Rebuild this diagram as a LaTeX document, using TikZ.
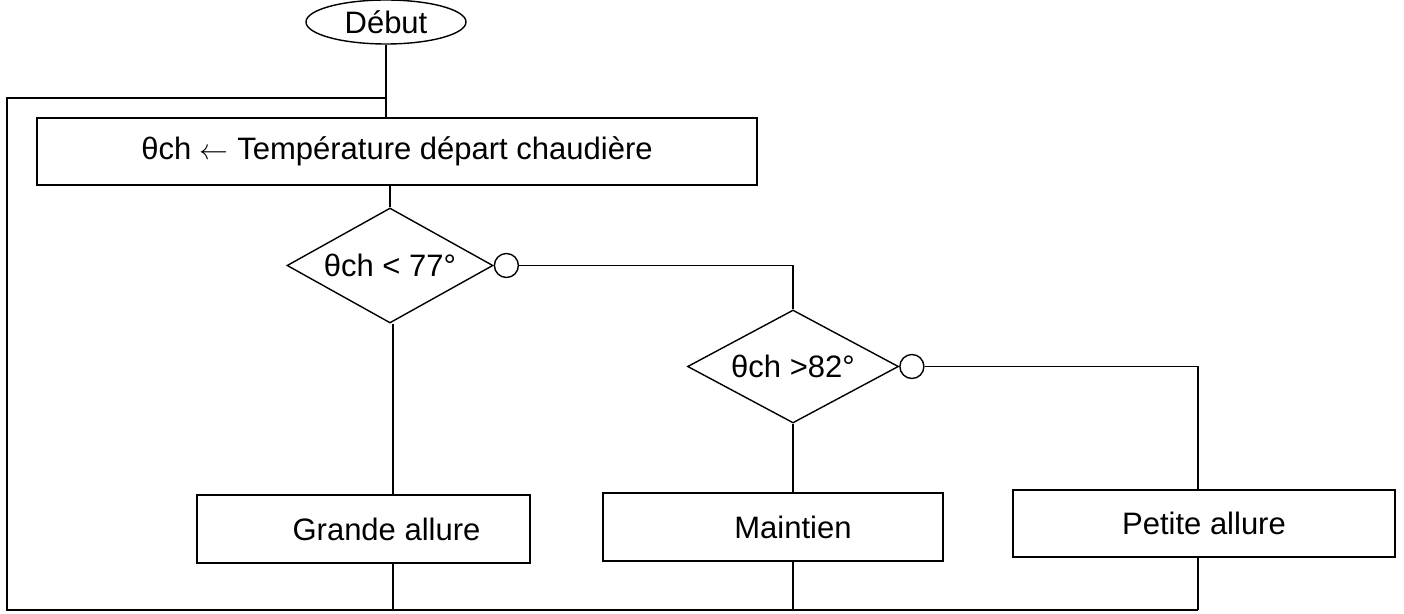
\documentclass[tikz,border=0pt]{standalone}
\usepackage{fontspec}
\setmainfont{Liberation Sans}
\usetikzlibrary{shapes.geometric}
\tikzset{
  every picture/.style={line width=0.7pt},
  txt/.style={font=\fontsize{15.5}{18}\selectfont, inner sep=0pt},
  termbox/.style={txt, draw, ellipse, minimum width=#1},
  procbox/.style={txt, draw, rectangle},
  testbox/.style={txt, draw, diamond, aspect=1.78},
  nobubble/.style={draw, circle, minimum size=12pt, inner sep=0pt},
  link/.style={draw}
}
\begin{document}
\begin{tikzpicture}[x=0.5pt,y=-0.5pt]
\useasboundingbox (0,0) rectangle (1404,614);
\node[termbox=80pt, minimum height=22pt] (debut) at (386,22) {Début};
\node[procbox, minimum width=360pt, minimum height=33.5pt] (calc) at (397,151.5) {θch $\leftarrow$ Température départ chaudière};
\node[testbox, minimum width=103pt, minimum height=57.5pt] (d1) at (390,265.5) {θch < 77°};
\node[nobubble, anchor=west] (c1) at (d1.east) {};
\node[testbox, minimum width=105.5pt, minimum height=56.5pt] (d2) at (793,366.5) {θch >82°};
\node[nobubble, anchor=west] (c2) at (d2.east) {};
\node[procbox, minimum width=166.5pt, minimum height=34pt,
      label={[txt, xshift=11.5pt]center:Grande allure}] (grande) at (363.5,529) {};
\node[procbox, minimum width=170pt, minimum height=34pt,
      label={[txt, xshift=10pt]center:Maintien}] (maintien) at (773,527) {};
\node[procbox, minimum width=191pt, minimum height=33.5pt] (petite) at (1204,523.5) {Petite allure};
\coordinate (j) at (386,98);
\coordinate (tl) at (7,98);
\coordinate (bl) at (7,610);
\coordinate (pr) at (1198,366.5);
\coordinate (gx) at (393,0);
\path[link] (debut.south) -- (debut.south |- calc.north);
\path[link] (j) -- (tl) -- (bl) -- (pr |- bl);
\path[link] (calc.south -| d1.north) -- (d1.north);
\path[link] (c1.east) -| (d2.north);
\path[link] (c2.east) -- (pr) -- (pr |- petite.north);
\path[link] (gx |- d1.south) -- (gx |- grande.north);
\path[link] (d2.south) -- (d2.south |- maintien.north);
\path[link] (gx |- grande.south) -- (gx |- bl);
\path[link] (d2.south |- maintien.south) -- (d2.south |- bl);
\path[link] (pr |- petite.south) -- (pr |- bl);
\end{tikzpicture}
\end{document}
